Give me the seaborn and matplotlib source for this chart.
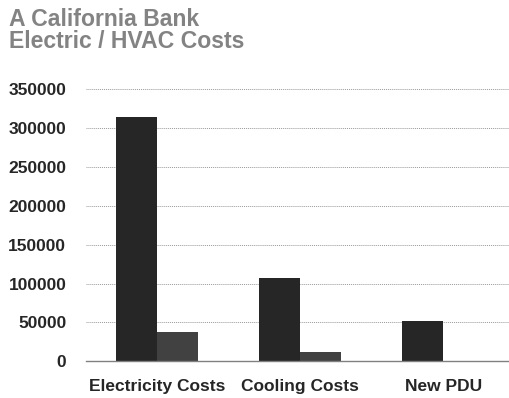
import numpy as np
import pandas as pd
import matplotlib
matplotlib.use("Agg")
import matplotlib.pyplot as plt
import seaborn as sns

# Data
categories = ["Electricity Costs", "Cooling Costs", "New PDU"]
current_costs = [314000, 107000, 52000]
new_costs = [37500, 12500, 0]
series_names = ["Current", "New"]
y_ticks = [0, 50000, 100000, 150000, 200000, 250000, 300000, 350000]

df = pd.DataFrame({
    "category": categories * 2,
    "series": [series_names[0]] * 3 + [series_names[1]] * 3,
    "cost": current_costs + new_costs,
})

sns.set_style("white")
plt.rcParams['font.family'] = ['Liberation Sans', 'DejaVu Sans']

fig = plt.figure(figsize=(5.09, 3.98), dpi=100)
ax = fig.add_axes([0.1684, 0.0922, 0.8428, 0.6842])

sns.barplot(data=df, x="category", y="cost", hue="series",
            palette=["#262626", "#414141"], width=0.57, gap=0,
            linewidth=0, legend=False, ax=ax, zorder=3)

ax.set_xlim(-0.5, 2.5)
ax.set_ylim(0, 350000)
ax.set_yticks(y_ticks)
ax.set_yticklabels([str(v) for v in y_ticks], fontsize=12.5, fontweight="bold")
ax.set_xticks(range(len(categories)))
ax.set_xticklabels(categories, fontsize=12.5, fontweight="bold")
ax.set_xticks([-0.5, 0.5, 1.5, 2.5], minor=True)
ax.tick_params(axis="x", which="major", length=0, pad=13)
ax.tick_params(axis="x", which="minor", length=4, color="#808080", width=1)
ax.tick_params(axis="y", length=0, pad=14)
ax.set_xlabel("")
ax.set_ylabel("")

ax.yaxis.grid(True, linestyle=(0, (1, 1)), color="#999999", linewidth=0.7, zorder=0)
ax.xaxis.grid(False)
for s in ["left", "right", "top"]:
    ax.spines[s].set_visible(False)
ax.spines["bottom"].set_color("#808080")
ax.spines["bottom"].set_linewidth(1)
ax.spines["bottom"].set_zorder(4)

fig.text(9 / 509, 1 - 8 / 398, "A California Bank\nElectric / HVAC Costs",
         fontsize=16.6, fontweight="bold", color="#838383", va="top", ha="left",
         linespacing=0.97)

fig.savefig("out.png", dpi=100)
